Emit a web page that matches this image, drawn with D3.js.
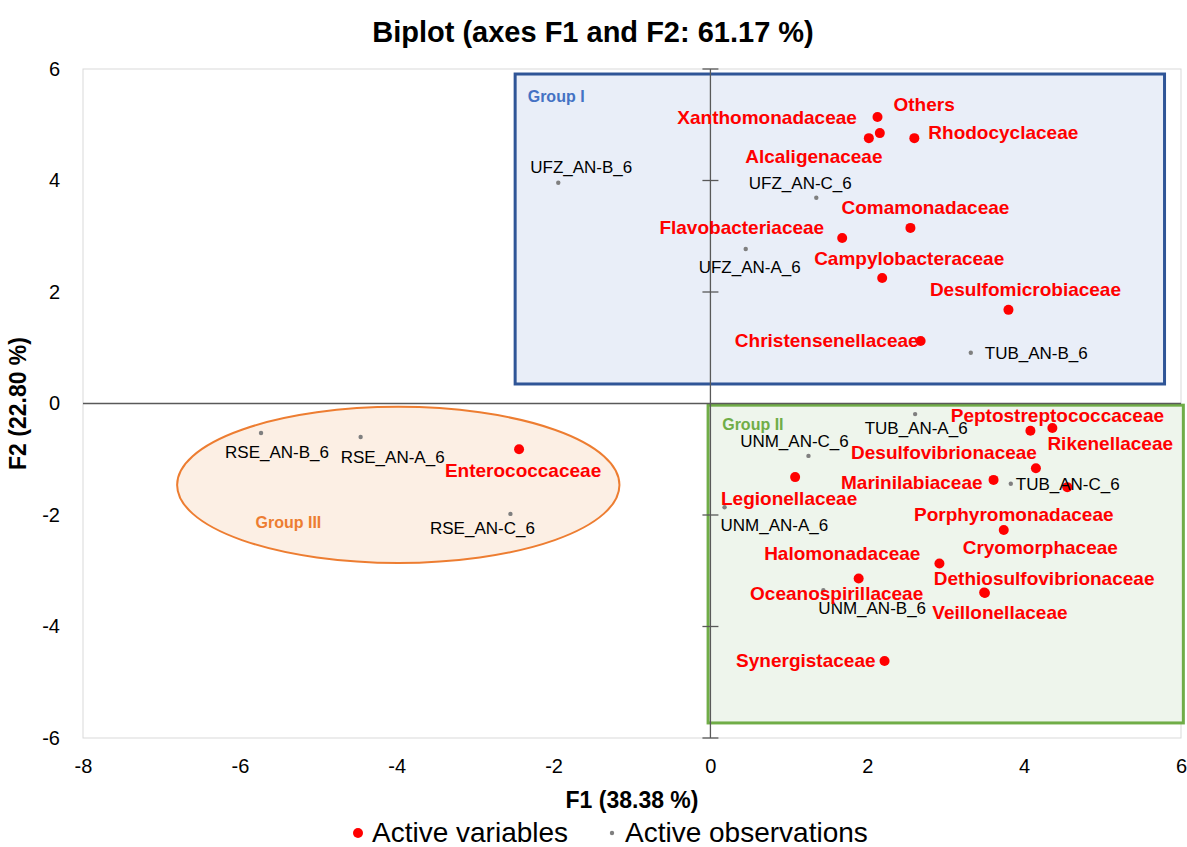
<!DOCTYPE html>
<html>
<head>
<meta charset="utf-8">
<script src="https://cdn.jsdelivr.net/npm/d3@7"></script>
<style>
  body { margin: 0; background: #fff; }
  svg { font-family: "Liberation Sans", Arial, sans-serif; }
</style>
</head>
<body>
<div id="biplot"></div>
<script>
/*active variables (families) : F1 and F2 coordinates*/
var variableNames = ["Others", "Xanthomonadaceae", "Alcaligenaceae", "Rhodocyclaceae", "Comamonadaceae",
  "Flavobacteriaceae", "Campylobacteraceae", "Desulfomicrobiaceae", "Christensenellaceae",
  "Peptostreptococcaceae", "Rikenellaceae", "Desulfovibrionaceae", "Marinilabiaceae", "Cryomorphaceae",
  "Porphyromonadaceae", "Halomonadaceae", "Oceanospirillaceae", "Dethiosulfovibrionaceae",
  "Veillonellaceae", "Legionellaceae", "Synergistaceae", "Enterococcaceae"];
var variableF1 = [2.13, 2.16, 2.02, 2.60, 2.55, 1.68, 2.19, 3.80, 2.68,
  4.08, 4.36, 4.15, 3.61, 4.55, 3.74, 2.92, 1.89, 3.49, 3.50, 1.08, 2.22, -2.44];
var variableF2 = [5.14, 4.85, 4.76, 4.76, 3.15, 2.97, 2.25, 1.68, 1.12,
  -0.49, -0.44, -1.16, -1.37, -1.50, -2.27, -2.87, -3.14, -3.39, -3.40, -1.32, -4.62, -0.82];

/*active observations (samples)*/
var observationNames = ["UFZ_AN-B_6", "UFZ_AN-C_6", "UFZ_AN-A_6", "TUB_AN-B_6", "TUB_AN-A_6", "UNM_AN-C_6",
  "UNM_AN-A_6", "TUB_AN-C_6", "UNM_AN-B_6", "RSE_AN-B_6", "RSE_AN-A_6", "RSE_AN-C_6"];
var observationF1 = [-1.94, 1.35, 0.45, 3.32, 2.61, 1.25, 0.18, 3.83, 1.44, -5.73, -4.46, -2.55];
var observationF2 = [3.96, 3.69, 2.77, 0.91, -0.19, -0.94, -1.86, -1.44, -3.35, -0.53, -0.60, -1.98];

/*tick values*/
var xTicks = [-8, -6, -4, -2, 0, 2, 4, 6];
var yTicks = [-6, -4, -2, 0, 2, 4, 6];

/*label placement next to each point: [dx, dy, anchor] in pixels*/
var labelPlace = {
  "Others": [16, -6, "start"], "Xanthomonadaceae": [-23, -9, "end"], "Alcaligenaceae": [-55, 25, "middle"],
  "Rhodocyclaceae": [14, 1, "start"], "Comamonadaceae": [15, -14, "middle"], "Flavobacteriaceae": [-18, -4, "end"],
  "Campylobacteraceae": [27, -13, "middle"], "Desulfomicrobiaceae": [17, -14, "middle"],
  "Christensenellaceae": [-2, 6, "end"], "Peptostreptococcaceae": [27, -9, "middle"],
  "Rikenellaceae": [-5, 22, "start"], "Desulfovibrionaceae": [1, -9, "end"], "Marinilabiaceae": [-11, 9, "end"],
  "Cryomorphaceae": [-27, 67, "middle"], "Porphyromonadaceae": [10, -9, "middle"],
  "Halomonadaceae": [-19, -4, "end"], "Oceanospirillaceae": [-22, 21, "middle"],
  "Dethiosulfovibrionaceae": [60, -7, "middle"], "Veillonellaceae": [15, 26, "middle"],
  "Legionellaceae": [-6, 28, "middle"], "Synergistaceae": [-9, 6, "end"], "Enterococcaceae": [4, 28, "middle"],
  "UFZ_AN-B_6": [23, -10, "middle"], "UFZ_AN-C_6": [-16, -9, "middle"], "UFZ_AN-A_6": [4, 24, "middle"],
  "TUB_AN-B_6": [14, 6, "start"], "TUB_AN-A_6": [1, 20, "middle"], "UNM_AN-C_6": [-14, -9, "middle"],
  "UNM_AN-A_6": [-4, 24, "start"], "TUB_AN-C_6": [5, 6, "start"], "UNM_AN-B_6": [-5, 24, "start"],
  "RSE_AN-B_6": [16, 25, "middle"], "RSE_AN-A_6": [32, 26, "middle"], "RSE_AN-C_6": [-28, 20, "middle"]
};

/*svg size and plot area*/
var svgWidth = 1187, svgHeight = 847;
var margin = {top: 69, right: 6, bottom: 109, left: 83};
var width = svgWidth - margin.left - margin.right;
var height = svgHeight - margin.top - margin.bottom;

var svg = d3.select("#biplot").append("svg")
  .attr("width", svgWidth)
  .attr("height", svgHeight);

var xScale = d3.scaleLinear().domain([-8, 6]).range([0, width]);
var yScale = d3.scaleLinear().domain([-6, 6]).range([height, 0]);

var g = svg.append("g").attr("transform", `translate(${margin.left},${margin.top})`);

/*plot frame*/
g.append("rect")
  .attr("width", width).attr("height", height)
  .attr("fill", "none").attr("stroke", "#d9d9d9");

/*group areas*/
g.append("rect")
  .attr("x", xScale(-2.49)).attr("y", yScale(5.91))
  .attr("width", xScale(5.79) - xScale(-2.49)).attr("height", yScale(0.35) - yScale(5.91))
  .attr("fill", "#e9eef8").attr("stroke", "#2f5597").attr("stroke-width", 3);

g.append("rect")
  .attr("x", xScale(-0.03)).attr("y", yScale(-0.03))
  .attr("width", xScale(6.03) - xScale(-0.03)).attr("height", yScale(-5.73) - yScale(-0.03))
  .attr("fill", "#eef5ec").attr("stroke", "#70ad47").attr("stroke-width", 3);

g.append("ellipse")
  .attr("cx", xScale(-3.98)).attr("cy", yScale(-1.46))
  .attr("rx", xScale(2.82) - xScale(0)).attr("ry", yScale(0) - yScale(1.40))
  .attr("fill", "#fcefe4").attr("stroke", "#ed7d31").attr("stroke-width", 2);

var groupLabels = [
  {text: "Group I", x: -2.33, y: 5.40, color: "#4472c4"},
  {text: "Group II", x: 0.15, y: -0.48, color: "#70ad47"},
  {text: "Group III", x: -5.80, y: -2.23, color: "#ed7d31"}
];
g.selectAll(".group-label").data(groupLabels).enter().append("text")
  .attr("class", "group-label")
  .attr("x", d => xScale(d.x)).attr("y", d => yScale(d.y))
  .attr("fill", d => d.color)
  .style("font-size", "16px").style("font-weight", "bold")
  .text(d => d.text);

/*zero axes with cross ticks on the vertical one*/
g.append("line")
  .attr("x1", 0).attr("x2", width)
  .attr("y1", yScale(0)).attr("y2", yScale(0))
  .attr("stroke", "#595959").attr("stroke-width", 1.3);
g.append("line")
  .attr("x1", xScale(0)).attr("x2", xScale(0))
  .attr("y1", 0).attr("y2", height)
  .attr("stroke", "#595959").attr("stroke-width", 1.3);
g.selectAll(".cross-tick").data(yTicks.filter(v => v !== 0)).enter().append("line")
  .attr("class", "cross-tick")
  .attr("x1", xScale(0) - 8).attr("x2", xScale(0) + 8)
  .attr("y1", d => yScale(d)).attr("y2", d => yScale(d))
  .attr("stroke", "#595959").attr("stroke-width", 1.3);

/*outer tick labels (plain hyphen for negatives, like the original)*/
var bottomAxis = d3.axisBottom(xScale).tickValues(xTicks).tickSize(0).tickPadding(21)
  .tickFormat(d => String(d));
var leftAxis = d3.axisLeft(yScale).tickValues(yTicks).tickSize(0).tickPadding(23)
  .tickFormat(d => String(d));

var xAxisG = g.append("g").attr("transform", `translate(0,${height})`).call(bottomAxis);
var yAxisG = g.append("g").call(leftAxis);
[xAxisG, yAxisG].forEach(function(a) {
  a.select(".domain").remove();
  a.selectAll("text")
    .attr("fill", "#000")
    .style("font-size", "20px")
    .style("font-family", "'Liberation Sans', Arial, sans-serif");
});

/*observations*/
var observations = observationNames.map((n, i) => ({name: n, f1: observationF1[i], f2: observationF2[i]}));
var variables = variableNames.map((n, i) => ({name: n, f1: variableF1[i], f2: variableF2[i]}));

g.selectAll(".obs").data(observations).enter().append("circle")
  .attr("class", "obs")
  .attr("cx", d => xScale(d.f1)).attr("cy", d => yScale(d.f2))
  .attr("r", 2.2).attr("fill", "#7f7f7f");

g.selectAll(".var").data(variables).enter().append("circle")
  .attr("class", "var")
  .attr("cx", d => xScale(d.f1)).attr("cy", d => yScale(d.f2))
  .attr("r", 5).attr("fill", "#ff0000");

g.selectAll(".obs-label").data(observations).enter().append("text")
  .attr("class", "obs-label")
  .attr("x", d => xScale(d.f1) + labelPlace[d.name][0])
  .attr("y", d => yScale(d.f2) + labelPlace[d.name][1])
  .attr("text-anchor", d => labelPlace[d.name][2])
  .attr("fill", "#000")
  .style("font-size", "17px")
  .text(d => d.name);

g.selectAll(".var-label").data(variables).enter().append("text")
  .attr("class", "var-label")
  .attr("x", d => xScale(d.f1) + labelPlace[d.name][0])
  .attr("y", d => yScale(d.f2) + labelPlace[d.name][1])
  .attr("text-anchor", d => labelPlace[d.name][2])
  .attr("fill", "#ff0000")
  .style("font-size", "19px").style("font-weight", "bold")
  .text(d => d.name);

/*titles*/
svg.append("text")
  .attr("x", 593).attr("y", 42)
  .attr("text-anchor", "middle")
  .style("font-size", "29px").style("font-weight", "bold")
  .text("Biplot (axes F1 and F2: 61.17 %)");

svg.append("text")
  .attr("x", margin.left + width / 2).attr("y", 808)
  .attr("text-anchor", "middle")
  .style("font-size", "23px").style("font-weight", "bold")
  .text("F1 (38.38 %)");

svg.append("text")
  .attr("transform", `translate(26,${margin.top + yScale(0)}) rotate(-90)`)
  .attr("text-anchor", "middle")
  .style("font-size", "23px").style("font-weight", "bold")
  .text("F2 (22.80 %)");

/*legend*/
var legend = svg.append("g").attr("transform", "translate(0,832)");
legend.append("circle").attr("cx", 358).attr("cy", 1).attr("r", 5).attr("fill", "#ff0000");
legend.append("text").attr("x", 372).attr("y", 10).style("font-size", "28px").text("Active variables");
legend.append("circle").attr("cx", 612).attr("cy", 1).attr("r", 2.2).attr("fill", "#7f7f7f");
legend.append("text").attr("x", 625).attr("y", 10).style("font-size", "28px").text("Active observations");
</script>
</body>
</html>
